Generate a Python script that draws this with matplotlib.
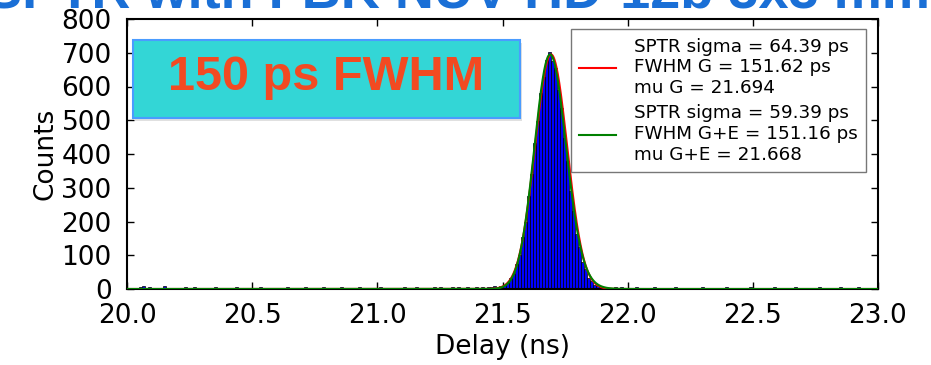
import math
import numpy as np
import matplotlib
matplotlib.use("Agg")
import matplotlib.pyplot as plt
from matplotlib.patches import Rectangle

# ---------------- data ----------------
x_start = 20.0
bin_width = 0.012

background_before = [3,2,4,0,5,9,3,6,2,1,0,3,8,2,4,1,3,0,2,5,1,3,6,2,0,4,2,3,1,5,2,0,3,4,1,2,6,3,0,2,4,1,3,2,5,0,2,3,1,4,
                     2,3,0,5,2,1,4,3,2,6,1,0,3,2,4,7,2,3,1,0,2,5,3,4,2,1,3,6,2,0,4,3,1,2,5,3,2,4,1,3,0,2,6,3,4,2,5,1,3,2,
                     4,3,6,2,5,3,4,2,7,3,5,4,2,6,3,4,5,3,7,4,6,5,8,7,9]
peak_counts = [12,17,33,45,74,101,153,198,276,340,433,498,580,628,678,702,676,655,590,535,447,380,290,232,163,124,80,58,33,24,12,9,6,3,4,2]
background_after = [4,6,3,5,2,4,3,1,5,2,3,0,4,2,6,1,3,2,0,4,3,5,1,2,3,0,2,4,1,3,5,2,0,3,1,4,2,3,6,1,
                    2,0,3,4,2,1,5,3,2,0,4,2,3,1,6,2,3,0,4,1,2,5,3,2,1,4,0,3,2,5,1,3,4,2,0,3,6,2,1,3,4,2,5,3,1,2,4,3,2]

gauss_sigma_ps = 64.39
gauss_fwhm_ps = 151.62
gauss_mu = 21.694
emg_sigma_ps = 59.39
emg_fwhm_ps = 151.16
emg_mu = 21.668
emg_tau = 0.025
fit_amplitude = 695

x_ticks = [20.0, 20.5, 21.0, 21.5, 22.0, 22.5, 23.0]
y_ticks = [0, 100, 200, 300, 400, 500, 600, 700, 800]

counts = np.array(background_before + peak_counts + background_after, dtype=float)
left_edges = x_start + bin_width * np.arange(len(counts))

# ---------------- figure ----------------
fig = plt.figure(figsize=(9.31, 3.65), dpi=100)
ax = fig.add_axes([127/931, 1-289/365, (878-127)/931, (289-19)/365])

ax.bar(left_edges, counts, width=bin_width, align='edge', color='#0000ff',
       edgecolor='black', linewidth=0.5, zorder=2)

xf = np.linspace(20.0, 23.0, 3000)
g = fit_amplitude * np.exp(-0.5 * ((xf - gauss_mu) / (gauss_sigma_ps / 1000)) ** 2)
s = emg_sigma_ps / 1000
lam = 1.0 / emg_tau
erfc_v = np.vectorize(math.erfc)
emg = np.exp(lam / 2 * (2 * emg_mu + lam * s**2 - 2 * xf)) * erfc_v((emg_mu + lam * s**2 - xf) / (math.sqrt(2) * s))
emg = fit_amplitude * emg / emg.max()

lab_g = f"SPTR sigma = {gauss_sigma_ps:.2f} ps\nFWHM G = {gauss_fwhm_ps:.2f} ps\nmu G = {gauss_mu:.3f}"
lab_e = f"SPTR sigma = {emg_sigma_ps:.2f} ps\nFWHM G+E = {emg_fwhm_ps:.2f} ps\nmu G+E = {emg_mu:.3f}"
ax.plot(xf, g, color='#ff0000', lw=1.5, label=lab_g, zorder=3)
ax.plot(xf, emg, color='#008000', lw=1.5, label=lab_e, zorder=4)

ax.set_xlim(20.0, 23.0)
ax.set_ylim(0, 800)
ax.set_xticks(x_ticks)
ax.set_xticklabels([f"{v:.1f}" for v in x_ticks])
ax.set_yticks(y_ticks)
ax.tick_params(direction='in', top=True, right=True, labelsize=19, length=5, width=1)
ax.tick_params(axis='x', pad=10)
ax.tick_params(axis='y', pad=11)
for sp in ax.spines.values():
    sp.set_linewidth(1.5)
ax.set_xlabel("Delay (ns)", fontsize=19, labelpad=4)
ax.set_ylabel("Counts", fontsize=19, labelpad=2)

leg = ax.legend(loc='upper right', fontsize=13.2, frameon=True, fancybox=False,
                edgecolor='#777777', framealpha=1, handlelength=2.0, borderpad=0.45,
                labelspacing=0.4, handletextpad=1.0, borderaxespad=0,
                bbox_to_anchor=(0.984, 0.962))
leg.get_frame().set_linewidth(1.0)

# cyan annotation box with shadow
shadow = Rectangle((135/931, 1-121/365), (520-133)/931, (118-40)/365, transform=fig.transFigure,
                   facecolor='#999999', alpha=0.3, edgecolor='none', zorder=5)
fig.add_artist(shadow)
box = Rectangle((133/931, 1-118/365), (520-133)/931, (118-40)/365, transform=fig.transFigure,
                facecolor='#33d6d6', edgecolor='#4a9cff', linewidth=1.5, zorder=6)
fig.add_artist(box)
fig.text((133+520)/2/931, 1-78/365, "150 ps FWHM", ha='center', va='center',
         fontsize=35, fontweight='bold', color='#f24a22', family='Liberation Sans', zorder=7)

# clipped title at top
fig.text(-0.015, 1-7/365, "SPTR with FBK NUV-HD-12b 3x3 mm", ha='left', va='baseline',
         fontsize=39, fontweight='bold', color='#1a6fd6', family='Liberation Sans')

fig.savefig("out.png", dpi=100)
